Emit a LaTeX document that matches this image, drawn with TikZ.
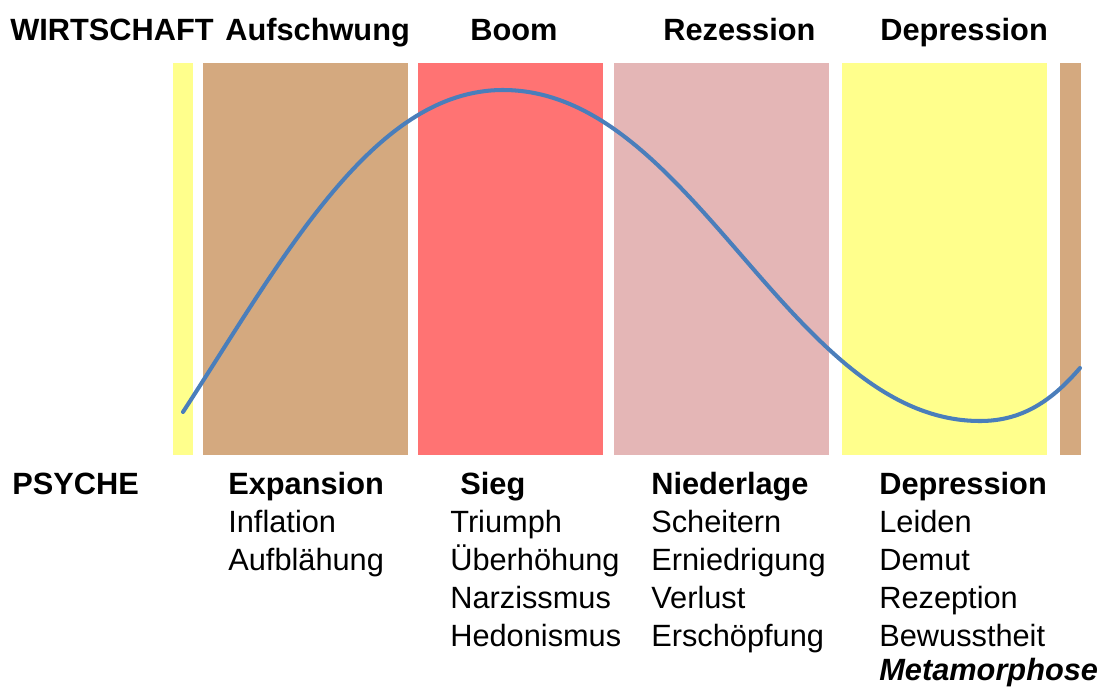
\documentclass[tikz,border=0pt]{standalone}
\usepackage{fontspec}
\setmainfont{Liberation Sans}
\definecolor{wyellow}{RGB}{255,255,140}
\definecolor{wtan}{RGB}{212,169,127}
\definecolor{wred}{RGB}{255,115,115}
\definecolor{wpink}{RGB}{228,182,182}
\definecolor{wblue}{RGB}{74,126,187}
\tikzset{
  lbl/.style={anchor=base west,inner sep=0pt,font=\fontsize{17.5}{21}\selectfont},
  head/.style={lbl,font=\fontsize{17.5}{21}\selectfont\bfseries}
}

\begin{document}
\begin{tikzpicture}[x=0.02cm,y=-0.02cm]
\useasboundingbox (0,0) rectangle (1102,687);
% phases
\fill[wyellow] (173,63) rectangle (193,455);
\fill[wtan] (203,63) rectangle (408,455);
\fill[wred] (418,63) rectangle (603,455);
\fill[wpink] (614,63) rectangle (829,455);
\fill[wyellow] (842,63) rectangle (1047,455);
\fill[wtan] (1060,63) rectangle (1081,455);
% curve
\draw[wblue,line width=2.3pt,line cap=round] (183,412)
  .. controls (283,258) and (373,90) .. (503,90)
  .. controls (693,90) and (790,421) .. (980,421)
  .. controls (1020,421) and (1050,403) .. (1080,368);
% top row
\node[head] (wirt) at (10,40) {WIRTSCHAFT};
\node[head] (aufs) at (225,40) {Aufschwung};
\node[head] (boom) at (470,40) {Boom};
\node[head] (reze) at (663,40) {Rezession};
\node[head] (depr) at (880,40) {Depression};
% bottom rows
\node[head] (psyche) at (12,494) {PSYCHE};
\node[head] (expa) at (228,494) {Expansion};
\node[head] (sieg) at (460,494) {Sieg};
\node[head] (nied) at (651,494) {Niederlage};
\node[head] (depb) at (879,494) {Depression};
\foreach \w [count=\i] in {Inflation,Aufblähung}
  \node[lbl] (expa\i) at (228,494+38*\i) {\w};
\foreach \w [count=\i] in {Triumph,Überhöhung,Narzissmus,Hedonismus}
  \node[lbl] (sieg\i) at (450,494+38*\i) {\w};
\foreach \w [count=\i] in {Scheitern,Erniedrigung,Verlust,Erschöpfung}
  \node[lbl] (nied\i) at (651,494+38*\i) {\w};
\foreach \w [count=\i] in {Leiden,Demut,Rezeption,Bewusstheit}
  \node[lbl] (depb\i) at (879,494+38*\i) {\w};
\node[head,font=\fontsize{17.5}{21}\selectfont\bfseries\itshape] (meta) at (879,680) {Metamorphose};
\end{tikzpicture}
\end{document}
